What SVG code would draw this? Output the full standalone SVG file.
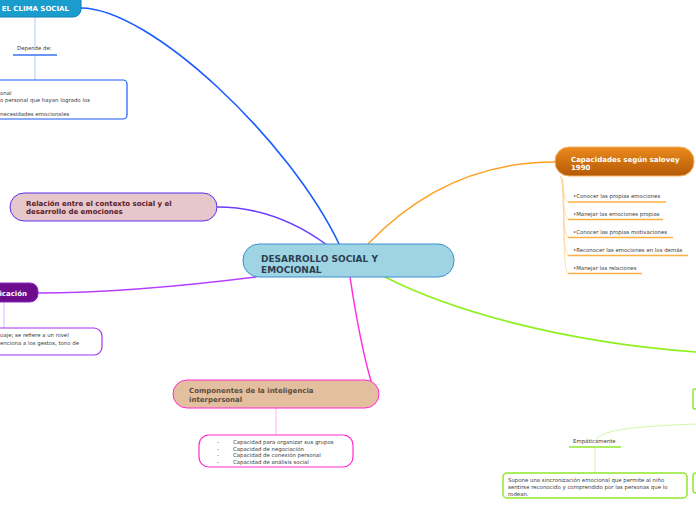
<svg xmlns="http://www.w3.org/2000/svg" width="696" height="520" viewBox="0 0 696 520">
<defs>
<linearGradient id="gOr" x1="0" y1="0" x2="0" y2="1"><stop offset="0" stop-color="#ec8a1c"/><stop offset="1" stop-color="#b45a06"/></linearGradient>
<style>
.t{font-family:"DejaVu Sans",Verdana,sans-serif;font-weight:bold;font-size:7px}
.s{font-family:"DejaVu Sans",Verdana,sans-serif;font-size:5.4px;fill:#3a3a3a}
.c{fill:none;stroke-linecap:round}
</style>
</defs>
<rect width="696" height="520" fill="#ffffff"/>
<g id="connectors">
<path class="c" d="M81,8 C150,8 290,140 340,246" stroke="#1a5cff" stroke-width="1.6"/>
<path class="c" d="M217,207 C265,207 300,225 327,245" stroke="#6a3cff" stroke-width="1.5"/>
<path class="c" d="M38,293 C120,293 200,284 256,277" stroke="#b540ff" stroke-width="1.5"/>
<path class="c" d="M350,277 C355,310 362,350 371,381" stroke="#ff30e0" stroke-width="1.5"/>
<path class="c" d="M368,244 C410,200 470,162 555,162" stroke="#ffa025" stroke-width="1.5"/>
<path class="c" d="M385,277 C450,310 560,342 696,352" stroke="#8ff020" stroke-width="1.6"/>
<path class="c" d="M35,17 V47 M35,56 V80" stroke="#b2c9f7" stroke-width="1"/>
<path class="c" d="M4,302 V328" stroke="#e2b8ff" stroke-width="1"/>
<path class="c" d="M276,408 V435" stroke="#ffb4f0" stroke-width="1"/>
<path class="c" d="M696,424 C650,426 600,428 596,440 M595,448 V473" stroke="#d4f7a8" stroke-width="1"/>
<g stroke="#ffd59a" stroke-width="0.8" fill="none">
<path d="M560,176 C566,178 561,200 568,202"/>
<path d="M560,176 C566,178 561,217 568,219"/>
<path d="M560,176 C566,178 561,235 568,237"/>
<path d="M560,176 C566,178 561,253 568,255"/>
<path d="M560,176 C566,178 561,271 568,273"/>
</g>
</g>
<g id="center">
<rect x="243" y="244" width="211" height="33" rx="16" fill="#9ed4e3" stroke="#3a8fd0" stroke-width="1"/>
<text class="t" x="261" y="262" font-size="9" fill="#2c3e50" style="font-size:9px">DESARROLLO SOCIAL Y</text>
<text class="t" x="261" y="273" fill="#2c3e50" style="font-size:9px">EMOCIONAL</text>
</g>
<g id="clima">
<rect x="-20" y="-10" width="101" height="27" rx="8" fill="#1a9ccc" stroke="#0c80b6" stroke-width="1"/>
<text class="t" x="69" y="10.5" text-anchor="end" fill="#ffffff">EL CLIMA SOCIAL</text>
</g>
<g id="depende">
<text class="s" x="17" y="50">Depende de:</text>
<line x1="13" y1="55" x2="57" y2="55" stroke="#3a70f0" stroke-width="1.5"/>
</g>
<g id="clima-box">
<rect x="-10" y="80" width="137" height="39" rx="4" fill="#ffffff" stroke="#1a5cff" stroke-width="1.2"/>
<text class="s" x="0" y="95">onal</text>
<text class="s" x="0" y="102">o personal que hayan logrado los</text>
<text class="s" x="0" y="115.5">necesidades emocionales</text>
</g>
<g id="relacion">
<rect x="10" y="193" width="207" height="28" rx="14" fill="#e6c7cc" stroke="#5b2ff0" stroke-width="1"/>
<text class="t" x="26" y="205.5" fill="#5a1a28">Relación entre el contexto social y el</text>
<text class="t" x="26" y="214" fill="#5a1a28">desarrollo de emociones</text>
</g>
<g id="comunicacion">
<rect x="-20" y="283" width="58" height="19" rx="8" fill="#6c0c8c" stroke="#8a28c0" stroke-width="1"/>
<text class="t" x="27" y="295.5" text-anchor="end" fill="#ffffff">icación</text>
</g>
<g id="comunicacion-box">
<rect x="-10" y="328" width="112" height="27" rx="8" fill="#ffffff" stroke="#a830f0" stroke-width="1.2"/>
<text class="s" x="0" y="337">uaje; se refiere a un nivel</text>
<text class="s" x="0" y="345">enciona a los gestos, tono de</text>
</g>
<g id="componentes">
<rect x="173" y="380" width="206" height="28" rx="14" fill="#e3bf9f" stroke="#ff2ad4" stroke-width="1"/>
<text class="t" x="189" y="393" fill="#5b4d3f">Componentes de la inteligencia</text>
<text class="t" x="189" y="402" fill="#5b4d3f">interpersonal</text>
</g>
<g id="componentes-box">
<rect x="199" y="435" width="154" height="32" rx="10" fill="#ffffff" stroke="#ff2ad4" stroke-width="1.2"/>
<text class="s" x="217" y="444">-</text><text class="s" x="233" y="444">Capacidad para organizar sus grupos</text>
<text class="s" x="217" y="450.5">-</text><text class="s" x="233" y="450.5">Capacidad de negociación</text>
<text class="s" x="217" y="457">-</text><text class="s" x="233" y="457">Capacidad de conexión personal</text>
<text class="s" x="217" y="463.5">-</text><text class="s" x="233" y="463.5">Capacidad de análisis social</text>
</g>
<g id="capacidades">
<rect x="555" y="147" width="139" height="29" rx="14" fill="url(#gOr)" stroke="#f5b060" stroke-width="1"/>
<text class="t" x="571" y="161.5" fill="#ffffff">Capacidades según salovey</text>
<text class="t" x="571" y="170" fill="#ffffff">1990</text>
</g>
<g id="capacidades-items">
<text class="s" x="573" y="198">•Conocer las propias emociones</text>
<line x1="568" y1="202" x2="666" y2="202" stroke="#ffb040" stroke-width="1.5"/>
<text class="s" x="573" y="216">•Manejar las emociones propias</text>
<line x1="568" y1="219.5" x2="663" y2="219.5" stroke="#ffb040" stroke-width="1.5"/>
<text class="s" x="573" y="234">•Conocer las propias motivaciones</text>
<line x1="568" y1="237.5" x2="673" y2="237.5" stroke="#ffb040" stroke-width="1.5"/>
<text class="s" x="573" y="252">•Reconocer las emociones en los demás</text>
<line x1="568" y1="255.5" x2="688" y2="255.5" stroke="#ffb040" stroke-width="1.5"/>
<text class="s" x="573" y="270">•Manejar las relaciones</text>
<line x1="568" y1="273.5" x2="642" y2="273.5" stroke="#ffb040" stroke-width="1.5"/>
</g>
<g id="green-node">
<rect x="693" y="389" width="20" height="20" rx="2" fill="#ffffff" stroke="#8fe82a" stroke-width="1.5"/>
</g>
<g id="empaticamente">
<text class="s" x="573" y="443">Empáticamente</text>
<line x1="569" y1="447" x2="621" y2="447" stroke="#8fe82a" stroke-width="1.5"/>
</g>
<g id="empatia-box">
<rect x="503" y="473" width="184" height="25" rx="4" fill="#ffffff" stroke="#8fe82a" stroke-width="1.5"/>
<text class="s" x="508" y="482">Supone una sincronización emocional que permite al niño</text>
<text class="s" x="508" y="489">sentirse reconocido y comprendido por las personas que lo</text>
<text class="s" x="508" y="496">rodean.</text>
</g>
<g id="green-box2">
<rect x="693" y="473" width="20" height="20" rx="3" fill="#ffffff" stroke="#8fe82a" stroke-width="1.5"/>
</g>
</svg>
